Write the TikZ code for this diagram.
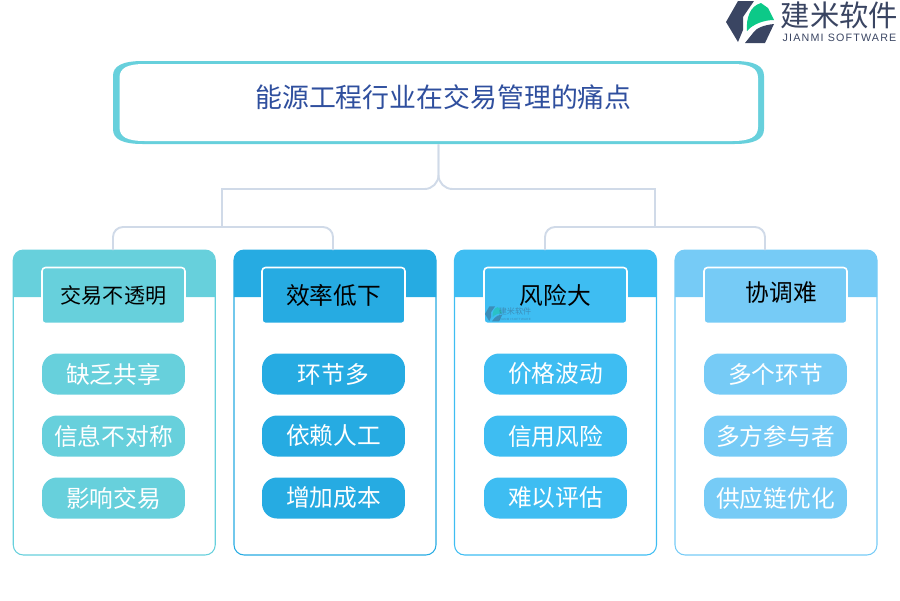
\documentclass[tikz,border=0pt]{standalone}
\usepackage{fontspec}
\setmainfont{Noto Sans CJK SC}
\newfontfamily\latinfont[LetterSpace=11]{Liberation Sans}
\usepackage{tikz}

\definecolor{linkgray}{HTML}{D0DAE8}
\definecolor{titleblue}{HTML}{2F4F9E}
\definecolor{logodark}{HTML}{3A4562}
\definecolor{logogreen}{HTML}{0CC988}
\definecolor{cardA}{HTML}{67D0DC}
\definecolor{cardB}{HTML}{26ABE2}
\definecolor{cardC}{HTML}{3EBDF2}
\definecolor{cardD}{HTML}{76CBF6}

\tikzset{
    link/.style={draw=linkgray, line width=1.1pt},
    cardbox/.style={draw, line width=0.6pt, rounded corners=0.2cm, minimum width=4.04cm, minimum height=6.1cm, inner sep=0pt},
    tabbox/.style={draw=white, line width=0.9pt, rounded corners=0.07cm, minimum width=2.86cm, minimum height=1.12cm, inner sep=0pt, text=black, font=\fontsize{13.5pt}{14pt}\selectfont},
    pillbox/.style={rounded corners=0.3cm, minimum width=2.86cm, minimum height=0.82cm, inner sep=0pt, text=white, font=\fontsize{13.5pt}{14pt}\selectfont},
    pics/logomark/.style={code={
        \fill[logodark] (0,22) -- (12,1) -- (28,1) -- (17,17) -- (17,30) -- (12,42) -- cycle;
        \fill[logodark] (19,43) -- (39,43) -- (48,24) .. controls (38,25) and (30,28) .. (27,33) -- cycle;
        \fill[logogreen] (21,31) .. controls (20,18) and (24,6) .. (35,3) -- (42,8) -- (48,20) .. controls (38,20) and (27,24) .. (21,31) -- cycle;
    }}
}

\begin{document}
\begin{tikzpicture}[x=0.02cm, y=-0.02cm]
\useasboundingbox (0,0) rectangle (900,600);

% -----------------------------
% Logo
% -----------------------------
\pic at (726,0) {logomark};
\node[text=logodark, font=\fontsize{16.7pt}{17pt}\selectfont] (logoname) at (839.5,15) {建米软件};
\node[text=logodark, font=\latinfont\fontsize{6.1pt}{7pt}\selectfont] (logosub) at (839.5,38) {JIANMI SOFTWARE};

% -----------------------------
% Title
% -----------------------------
\fill[cardA] (143,61) -- (734,61) .. controls (755,61) and (764,66) .. (764,76) -- (764,129) .. controls (764,139) and (755,144) .. (734,144) -- (143,144) .. controls (122,144) and (113,139) .. (113,129) -- (113,76) .. controls (113,66) and (122,61) .. (143,61) -- cycle;
\fill[white] (145,64) -- (732,64) .. controls (750,64) and (758,68) .. (758,78) -- (758,127) .. controls (758,137) and (750,141) .. (732,141) -- (145,141) .. controls (127,141) and (119.5,137) .. (119.5,127) -- (119.5,78) .. controls (119.5,68) and (127,64) .. (145,64) -- cycle;
\node[minimum width=13.02cm, minimum height=1.66cm] (titleback) at (438.5,102.5) {};
\node[text=titleblue, font=\fontsize{15.3pt}{16pt}\selectfont] (title) at (443.5,97) {能源工程行业在交易管理的痛点};

% -----------------------------
% Cards
% -----------------------------
\foreach \i/\xa/\xb/\xt/\col/\head/\pa/\pb/\pc in {
    1/13.5/215/113.5/cardA/{\fontsize{12pt}{13pt}\selectfont 交易不透明}/缺乏共享/信息不对称/影响交易,
    2/234/436/333.5/cardB/效率低下/环节多/依赖人工/增加成本,
    3/454.5/656.5/555.5/cardC/风险大/价格波动/信用风险/难以评估,
    4/675/877/775.5/cardD/{\hspace{6.6pt}\rule[-5pt]{0pt}{5pt}协调难}/多个环节/多方参与者/供应链优化} {
    \node[cardbox, draw=\col] (card\i) at ({(\xa+\xb)/2},402.5) {};
    \fill[\col] (\xa,297) [rounded corners=0.2cm] -- (\xa,250) -- (\xb,250) [sharp corners] -- (\xb,297) -- cycle;
    \node[tabbox, fill=\col] (tab\i) at (\xt,295.5) {\head};
    \node[pillbox, fill=\col] (pilla\i) at (\xt,374) {\pa};
    \node[pillbox, fill=\col] (pillb\i) at (\xt,436) {\pb};
    \node[pillbox, fill=\col] (pillc\i) at (\xt,498) {\pc};
}

% small watermark on the third tab
\begin{scope}[opacity=0.4]
\pic[scale=0.36] at (485,306) {logomark};
\node[text=logodark, font=\fontsize{4.6pt}{5pt}\selectfont] (marktext) at (515,311) {建米软件};
\node[text=logodark, font=\latinfont\fontsize{1.7pt}{2pt}\selectfont] (marksub) at (515,319) {JIANMI SOFTWARE};
\end{scope}

% -----------------------------
% Connectors
% -----------------------------
\coordinate (hub) at (438.5,189);
\coordinate (barleft) at (222,189);
\coordinate (barright) at (655,189);
\coordinate (forkleft) at (222,227);
\coordinate (forkright) at (655,227);
\coordinate (bendA) at (113,227);
\coordinate (bendB) at (333,227);
\coordinate (bendC) at (545,227);
\coordinate (bendD) at (765,227);
\coordinate (dropA) at (113,250);
\coordinate (dropB) at (333,250);
\coordinate (dropC) at (545,250);
\coordinate (dropD) at (765,250);

\draw[link] (forkleft) -- (barleft) [rounded corners=0.28cm] -- (hub) -- (titleback.south);
\draw[link] (forkright) -- (barright) [rounded corners=0.28cm] -- (hub) -- (titleback.south);
\draw[link, rounded corners=0.2cm] (dropA) -- (bendA) -- (bendB) -- (dropB);
\draw[link, rounded corners=0.2cm] (dropC) -- (bendC) -- (bendD) -- (dropD);

\end{tikzpicture}
\end{document}
